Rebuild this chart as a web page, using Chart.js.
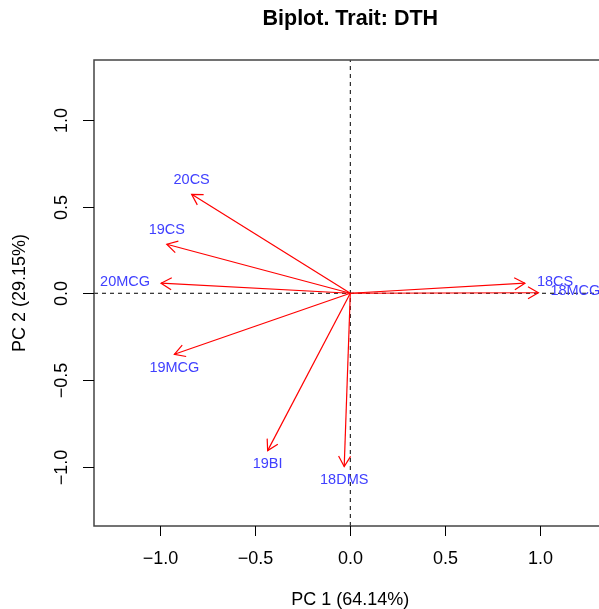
<!DOCTYPE html>
<html><head><meta charset="utf-8">
<script src="https://cdn.jsdelivr.net/npm/chart.js@4/dist/chart.umd.min.js"></script>
<style>html,body{margin:0;padding:0;background:#fff;}#wrap{width:599px;height:609px;}</style>
</head><body><div id="wrap"><canvas id="c" width="599" height="609"></canvas></div>
<script>
const chartTitle = 'Biplot. Trait: DTH';
const xTitle = 'PC 1 (64.14%)';
const yTitle = 'PC 2 (29.15%)';
const varNames = ['20CS','19CS','20MCG','19MCG','19BI','18DMS','18CS','18MCG'];
const pc1 = [-0.835, -0.966, -0.996, -0.926, -0.435, -0.032, 0.919, 0.990];
const pc2 = [0.571, 0.283, 0.058, -0.352, -0.908, -1.000, 0.058, 0.003];
const xTicks = [-1.0, -0.5, 0.0, 0.5, 1.0];
const yTicks = [-1.0, -0.5, 0.0, 0.5, 1.0];
const xLim = [-1.349, 1.349];
const yLim = [-1.343, 1.346];
const xVisibleMax = 1.309;

const FONT = "'Liberation Sans', Arial, Helvetica, sans-serif";
const fmt = v => v.toFixed(1).replace('-', '\u2212');

const datasets = [];
datasets.push({data:[{x:xLim[0],y:0},{x:xLim[1],y:0}], borderColor:'#000', borderWidth:1, borderDash:[4,4], pointRadius:0, order:2});
datasets.push({data:[{x:0,y:yLim[0]},{x:0,y:yLim[1]}], borderColor:'#000', borderWidth:1, borderDash:[4,4], pointRadius:0, order:2});
varNames.forEach((n,i)=>{
  datasets.push({label:n, data:[{x:0,y:0},{x:pc1[i],y:pc2[i]}], borderColor:'#ff0000', borderWidth:1.2, pointRadius:0, order:1, isArrow:true, idx:i});
});

const biplotPlugin = {
  id:'biplot',
  afterDatasetsDraw(chart){
    const ctx = chart.ctx, xs = chart.scales.x, ys = chart.scales.y;
    ctx.save();
    // arrowheads
    chart.data.datasets.forEach((ds,di)=>{
      if(!ds.isArrow) return;
      const pts = chart.getDatasetMeta(di).data;
      const x0=pts[0].x, y0=pts[0].y, x1=pts[1].x, y1=pts[1].y;
      const ang = Math.atan2(y1-y0, x1-x0);
      const L = 12, a = Math.PI/6;
      ctx.strokeStyle='#ff0000'; ctx.lineWidth=1.2;
      ctx.beginPath();
      ctx.moveTo(x1 - L*Math.cos(ang-a), y1 - L*Math.sin(ang-a));
      ctx.lineTo(x1,y1);
      ctx.lineTo(x1 - L*Math.cos(ang+a), y1 - L*Math.sin(ang+a));
      ctx.stroke();
      // label
      const i = ds.idx;
      const deg = Math.abs(Math.atan2(pc2[i], Math.abs(pc1[i]))*180/Math.PI);
      ctx.fillStyle='#4040ff';
      ctx.font = '14.5px '+FONT;
      ctx.textBaseline='middle';
      if(deg < 10){
        if(pc1[i] < 0){ ctx.textAlign='right'; ctx.fillText(ds.label, x1-11, y1-1.5); }
        else { ctx.textAlign='left'; ctx.fillText(ds.label, x1+12, y1-1.5); }
      } else {
        ctx.textAlign='center';
        if(pc2[i] > 0) ctx.fillText(ds.label, x1, y1-14);
        else ctx.fillText(ds.label, x1, y1+13.5);
      }
    });
    ctx.restore();
  },
  afterDraw(chart){
    const ctx = chart.ctx, xs = chart.scales.x, ys = chart.scales.y;
    const left = xs.getPixelForValue(xLim[0]), right = xs.getPixelForValue(xLim[1]);
    const top = ys.getPixelForValue(yLim[1]), bottom = ys.getPixelForValue(yLim[0]);
    ctx.save();
    // box
    ctx.strokeStyle='#444'; ctx.lineWidth=1.5;
    ctx.strokeRect(left, top, right-left, bottom-top);
    // x ticks
    ctx.strokeStyle='#000'; ctx.lineWidth=1;
    ctx.fillStyle='#000'; ctx.font='18px '+FONT;
    ctx.textAlign='center'; ctx.textBaseline='middle';
    xTicks.forEach(v=>{
      const px = Math.round(xs.getPixelForValue(v))+0.5;
      ctx.beginPath(); ctx.moveTo(px,bottom); ctx.lineTo(px,bottom+10); ctx.stroke();
      ctx.fillText(fmt(v), px, bottom+33);
    });
    // y ticks
    yTicks.forEach(v=>{
      const py = Math.round(ys.getPixelForValue(v))+0.5;
      ctx.beginPath(); ctx.moveTo(left,py); ctx.lineTo(left-11,py); ctx.stroke();
      ctx.save(); ctx.translate(left-32, py); ctx.rotate(-Math.PI/2);
      ctx.fillText(fmt(v), 0, 0); ctx.restore();
    });
    // axis titles
    const cx = (left+right)/2, cy = (top+bottom)/2;
    ctx.fillText(xTitle, cx, bottom+74);
    ctx.save(); ctx.translate(20, cy); ctx.rotate(-Math.PI/2); ctx.fillText(yTitle,0,0); ctx.restore();
    // main title
    ctx.font='bold 21.5px '+FONT;
    ctx.fillText(chartTitle, cx, 19);
    ctx.restore();
  }
};

new Chart(document.getElementById('c'), {
  type:'line',
  data:{datasets},
  options:{
    responsive:false, animation:false, devicePixelRatio:1,
    layout:{padding:{left:94, top:60, right:0, bottom:83}},
    plugins:{legend:{display:false}, tooltip:{enabled:false}, title:{display:false}},
    scales:{
      x:{type:'linear', display:false, min:xLim[0], max:xVisibleMax},
      y:{type:'linear', display:false, min:yLim[0], max:yLim[1]}
    },
    elements:{line:{tension:0}}
  },
  plugins:[biplotPlugin]
});
</script></body></html>
